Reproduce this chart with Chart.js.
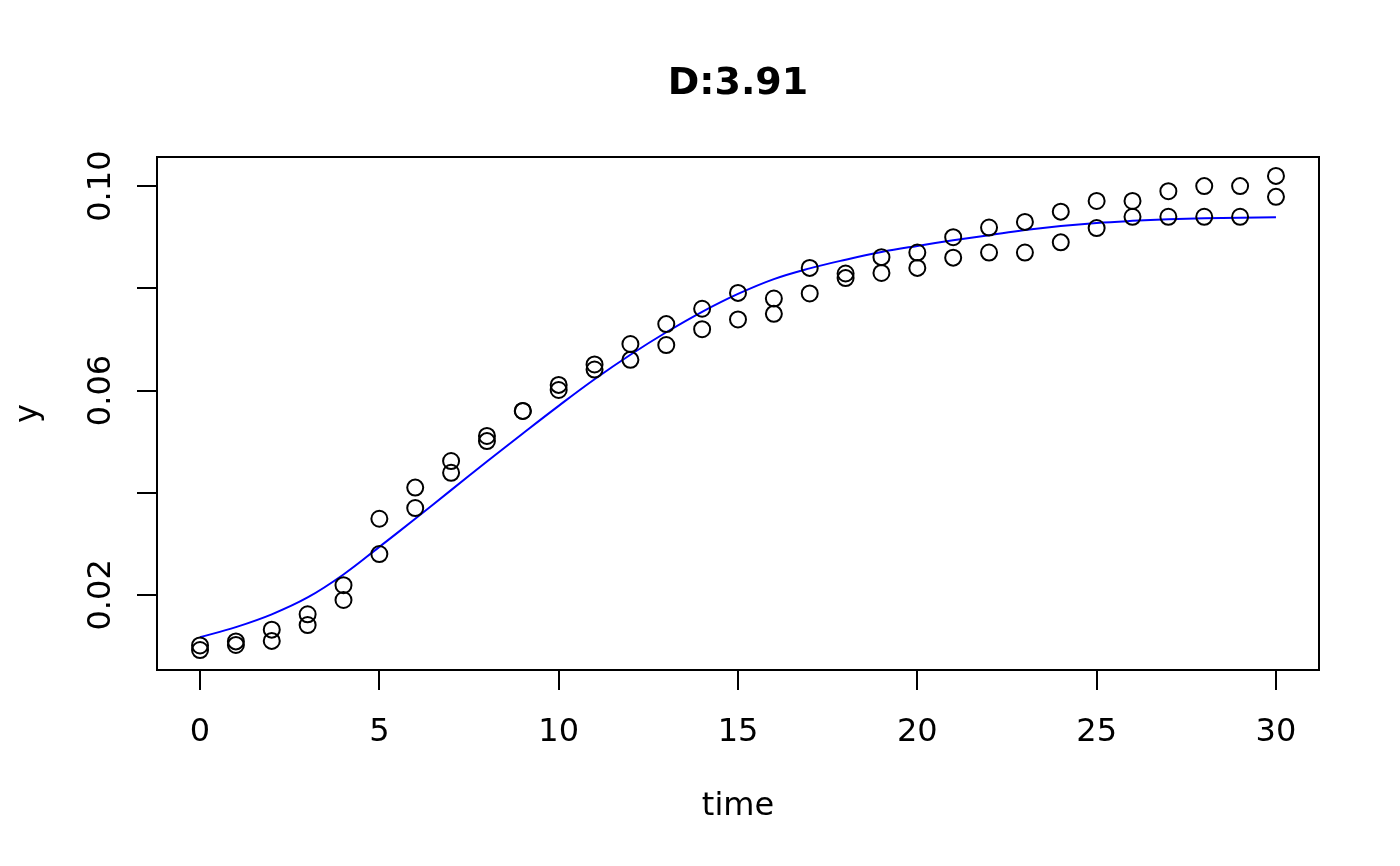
<!DOCTYPE html>
<html>
<head>
<meta charset="utf-8">
<script src="https://cdn.jsdelivr.net/npm/chart.js@4.4.1/dist/chart.umd.min.js"></script>
<style>
  body { margin: 0; background: #fff; }
  #wrap { width: 1400px; height: 866px; }
</style>
</head>
<body>
<div id="wrap"><canvas id="myChart" width="1400" height="866"></canvas></div>
<script>
// chart values
const titleText = "D:3.91";
const xLabel = "time";
const yLabel = "y";

const times = [0, 1, 2, 3, 4, 5, 6, 7, 8, 9, 10, 11, 12, 13, 14, 15, 16, 17, 18, 19, 20, 21, 22, 23, 24, 25, 26, 27, 28, 29, 30];

// two replicate observations per time
const repA = [0.0101, 0.0109, 0.0132, 0.0162, 0.0219, 0.0349, 0.0410, 0.0462, 0.0511, 0.0560, 0.0611,
  0.0651, 0.0691, 0.0730, 0.0760, 0.0791, 0.0780, 0.0840, 0.0829, 0.0861, 0.0870,
  0.0900, 0.0919, 0.0930, 0.0950, 0.0971, 0.0971, 0.0990, 0.1000, 0.1000, 0.1020];
const repB = [0.0092, 0.0102, 0.0110, 0.0141, 0.0190, 0.0280, 0.0370, 0.0439, 0.0501, 0.0560, 0.0601,
  0.0641, 0.0660, 0.0689, 0.0720, 0.0739, 0.0750, 0.0790, 0.0820, 0.0830, 0.0840,
  0.0860, 0.0870, 0.0870, 0.0890, 0.0918, 0.0940, 0.0940, 0.0940, 0.0940, 0.0979];

// fitted curve (blue)
const fitted = [0.0117, 0.0137, 0.0162, 0.0195, 0.0240, 0.0294, 0.0349, 0.0405, 0.0461, 0.0516, 0.0570,
  0.0622, 0.0670, 0.0714, 0.0754, 0.0789, 0.0818, 0.0839, 0.0856, 0.0871, 0.0883,
  0.0894, 0.0904, 0.0914, 0.0922, 0.0928, 0.0932, 0.0935, 0.0937, 0.0938, 0.0939];

const xTicks = [0, 5, 10, 15, 20, 25, 30];
const yTicks = [0.02, 0.04, 0.06, 0.08, 0.10];
const yTickLabels = ["0.02", "", "0.06", "", "0.10"];

const FONT = "'DejaVu Sans', sans-serif";

//build point lists from the arrays
let obsPoints = [];
times.forEach((t, i) => {
  obsPoints.push({ x: t, y: repA[i] });
  obsPoints.push({ x: t, y: repB[i] });
});
let fitPoints = times.map((t, i) => ({ x: t, y: fitted[i] }));

//frame, title, axis titles and rotated y labels
const decorations = {
  id: "decorations",
  afterDraw(chart) {
    const ctx = chart.ctx;
    const area = chart.chartArea;
    const yScale = chart.scales.y;
    ctx.save();
    ctx.strokeStyle = "#000";
    ctx.lineWidth = 2;
    ctx.strokeRect(area.left, area.top, area.right - area.left, area.bottom - area.top);

    ctx.fillStyle = "#000";
    ctx.textAlign = "center";
    ctx.textBaseline = "alphabetic";
    ctx.font = "bold 38px " + FONT;
    ctx.fillText(titleText, (area.left + area.right) / 2, 94);

    ctx.font = "32px " + FONT;
    ctx.fillText(xLabel, (area.left + area.right) / 2, 815);

    ctx.save();
    ctx.translate(37, (area.top + area.bottom) / 2);
    ctx.rotate(-Math.PI / 2);
    ctx.fillText(yLabel, 0, 0);
    ctx.restore();

    yTicks.forEach((v, i) => {
      if (!yTickLabels[i]) return;
      ctx.save();
      ctx.translate(110, yScale.getPixelForValue(v));
      ctx.rotate(-Math.PI / 2);
      ctx.fillText(yTickLabels[i], 0, 0);
      ctx.restore();
    });
    ctx.restore();
  },
};

const data = {
  datasets: [
    {
      label: "observed",
      data: obsPoints,
      showLine: false,
      pointStyle: "circle",
      pointRadius: 8,
      pointBorderWidth: 2,
      pointBorderColor: "#000",
      pointBackgroundColor: "rgba(0,0,0,0)",
      clip: false,
    },
    {
      label: "fit",
      data: fitPoints,
      showLine: true,
      borderColor: "#0000ff",
      borderWidth: 2,
      pointRadius: 0,
      tension: 0.4,
      fill: false,
    },
  ],
};

const config = {
  type: "scatter",
  data: data,
  options: {
    responsive: false,
    animation: false,
    devicePixelRatio: 1,
    layout: { padding: { top: 157, right: 81, left: 0, bottom: 0 } },
    plugins: {
      legend: { display: false },
      tooltip: { enabled: false },
      title: { display: false },
    },
    scales: {
      x: {
        type: "linear",
        min: -1.2,
        max: 31.2,
        afterBuildTicks: (scale) => {
          scale.ticks = xTicks.map((v) => ({ value: v }));
        },
        afterFit: (scale) => {
          scale.height = 196;
        },
        grid: { drawOnChartArea: false, drawTicks: true, tickLength: 20, color: "#000", lineWidth: 2 },
        border: { display: false },
        ticks: {
          color: "#000",
          font: { family: FONT, size: 32 },
          padding: 23,
          maxRotation: 0,
          autoSkip: false,
        },
      },
      y: {
        type: "linear",
        min: 0.0053,
        max: 0.1057,
        afterBuildTicks: (scale) => {
          scale.ticks = yTicks.map((v) => ({ value: v }));
        },
        afterFit: (scale) => {
          scale.width = 157;
        },
        grid: { drawOnChartArea: false, drawTicks: true, tickLength: 20, color: "#000", lineWidth: 2 },
        border: { display: false },
        ticks: { display: false },
      },
    },
  },
  plugins: [decorations],
};

const myChart = new Chart(document.getElementById("myChart"), config);
</script>
</body>
</html>
